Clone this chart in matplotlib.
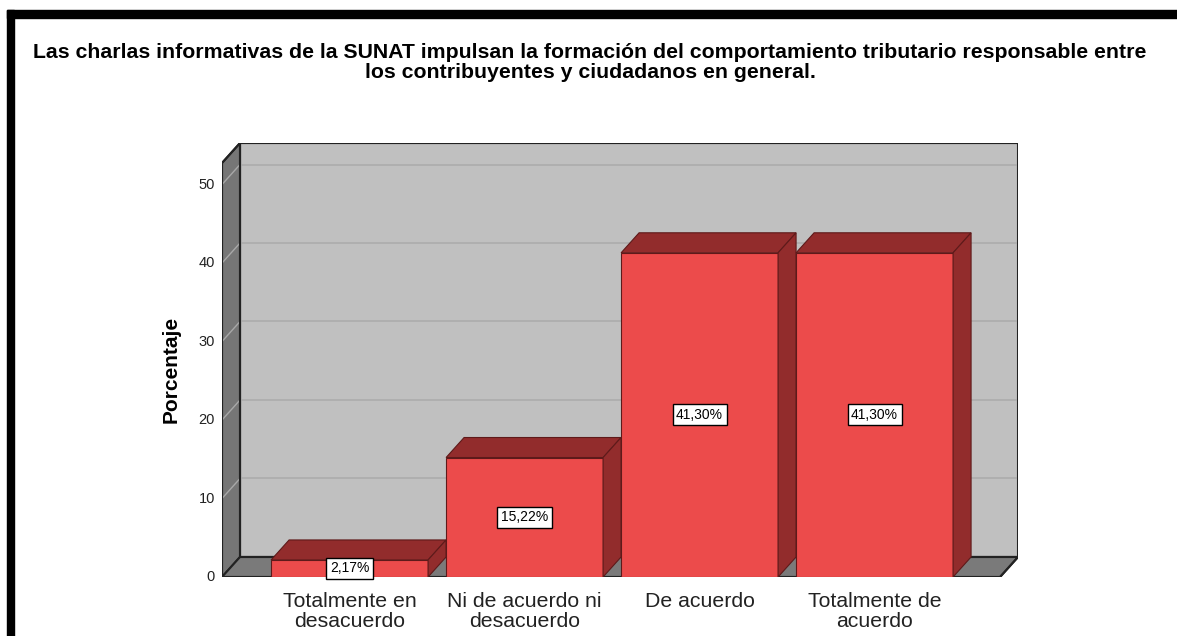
import matplotlib.pyplot as plt
from matplotlib.patches import Polygon, Rectangle

categories = ["Totalmente en\ndesacuerdo", "Ni de acuerdo ni\ndesacuerdo",
              "De acuerdo", "Totalmente de\nacuerdo"]
values = [2.17, 15.22, 41.30, 41.30]
labels = ["2,17%", "15,22%", "41,30%", "41,30%"]
yticks = [0, 10, 20, 30, 40, 50]
title_lines = ["Las charlas informativas de la SUNAT impulsan la formación del comportamiento "
               "tributario responsable entre",
               "los contribuyentes y ciudadanos en general."]

plt.rcParams['font.family'] = ['Liberation Sans', 'DejaVu Sans']

W, H = 1177, 636
fig = plt.figure(figsize=(W / 100, H / 100), dpi=100)

# front plane + depth, laid out in pixels then converted
ax = fig.add_axes([222 / W, 59 / H, 796 / W, 434 / H])
xl, xr = -0.729, 3.717      # front plane x limits
ymax = 52.74                # front plane top
dx, dy = 0.1029, 2.55       # depth offset
ax.set_xlim(xl, xl + 796 / 175)
ax.set_ylim(0, 55.29)
ax.axis("off")

wall_edge = "#222222"
# back wall
ax.add_patch(Rectangle((xl + dx, dy), xr - xl, ymax, facecolor="#c0c0c0",
                       edgecolor=wall_edge, lw=1.5, zorder=1))
# left wall
ax.add_patch(Polygon([(xl, 0), (xl, ymax), (xl + dx, ymax + dy), (xl + dx, dy)],
                     closed=True, facecolor="#767676", edgecolor=wall_edge, lw=1.5, zorder=1))
# floor
ax.add_patch(Polygon([(xl, 0), (xr, 0), (xr + dx, dy), (xl + dx, dy)],
                     closed=True, facecolor="#7a7a7a", edgecolor=wall_edge, lw=1.5, zorder=1))

# gridlines
for t in yticks[1:]:
    ax.plot([xl + dx, xr + dx], [t + dy, t + dy], color="#acacac", lw=1.2, zorder=2)
    ax.plot([xl, xl + dx], [t, t + dy], color="#a8a8a8", lw=1.0, zorder=2)
# redraw wall edges on top of grid
ax.plot([xl, xl, xl + dx, xr + dx, xr + dx, xr, xl],
        [0, ymax, ymax + dy, ymax + dy, dy, 0, 0], color=wall_edge, lw=1.5, zorder=2)
ax.plot([xl + dx, xl + dx, xr + dx], [ymax + dy, dy, dy], color=wall_edge, lw=1.5, zorder=2)

for t in yticks:
    ax.text(xl - 0.04, t, str(t), ha="right", va="center", fontsize=10.5, color="#222222")

# bars
w = 0.897
front = "#ec4b4b"
dark = "#922c2c"
edge = "#5e1a1a"
for i, v in enumerate(values):
    x0, x1 = i - w / 2, i + w / 2
    ax.add_patch(Rectangle((x0, 0), w, v, facecolor=front, edgecolor=edge, lw=0.8, zorder=3))
    ax.add_patch(Polygon([(x0, v), (x1, v), (x1 + dx, v + dy), (x0 + dx, v + dy)],
                         closed=True, facecolor=dark, edgecolor=edge, lw=0.8, zorder=3))
    ax.add_patch(Polygon([(x1, 0), (x1 + dx, dy), (x1 + dx, v + dy), (x1, v)],
                         closed=True, facecolor=dark, edgecolor=edge, lw=0.8, zorder=3))
    ax.text(i, v / 2, labels[i], ha="center", va="center", fontsize=10, zorder=5,
            bbox=dict(boxstyle="square,pad=0.25", facecolor="white", edgecolor="black", lw=1))
    ax.text(i, -1.9, categories[i], ha="center", va="top", fontsize=15.3,
            linespacing=1.05, color="#222222")

ax.text(xl - 0.29, 26.5, "Porcentaje", rotation=90, ha="center", va="center",
        fontsize=15, fontweight="bold")

for k, line in enumerate(title_lines):
    fig.text(590 / W, 1 - (52 + 20 * k) / H, line, ha="center", va="center",
             fontsize=15.3, fontweight="bold")

# frame
fig.add_artist(Rectangle((7 / W, 0), 7 / W, (H - 10) / H, transform=fig.transFigure,
                         color="black"))
fig.add_artist(Rectangle((7 / W, (H - 18) / H), (W - 7) / W, 8 / H, transform=fig.transFigure,
                         color="black"))

fig.savefig("out.png", dpi=100)
